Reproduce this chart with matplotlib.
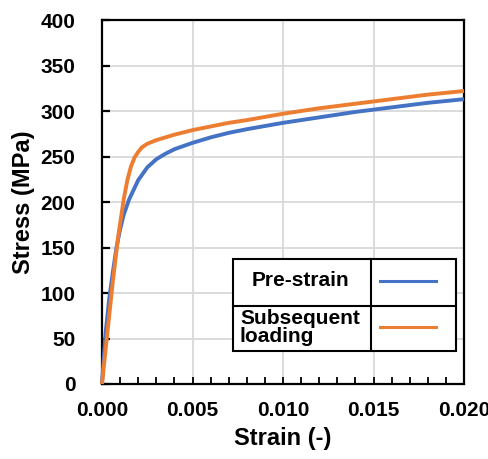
import matplotlib
matplotlib.use("Agg")
import matplotlib.pyplot as plt
from matplotlib.patches import Rectangle
from matplotlib.lines import Line2D
import numpy as np

plt.rcParams['font.family'] = ['Liberation Sans', 'DejaVu Sans']
plt.rcParams['font.weight'] = 'bold'

# values
pre_strain_x = [0, 0.0001, 0.0002, 0.0004, 0.0006, 0.0008, 0.001, 0.0012, 0.0015,
                0.002, 0.0025, 0.003, 0.0035, 0.004, 0.005, 0.006, 0.007, 0.008,
                0.010, 0.012, 0.014, 0.016, 0.018, 0.020]
pre_strain_y = [0, 30, 56, 94, 123, 150, 170, 186, 203,
                224, 238, 247, 253, 258, 265, 271, 276, 280,
                287, 293, 299, 304, 309, 313]

subseq_x = [0, 0.0003, 0.0006, 0.0009, 0.0012, 0.0014, 0.0016, 0.0018, 0.002,
            0.0022, 0.0025, 0.003, 0.004, 0.005, 0.006, 0.007, 0.008,
            0.010, 0.012, 0.014, 0.016, 0.018, 0.020]
subseq_y = [0, 57, 113, 163, 203, 224, 239, 249, 255,
            260, 264, 268, 274, 279, 283, 287, 290,
            297, 303, 308, 313, 318, 322]

blue = '#4472C4'
orange = '#ED7D31'

fig = plt.figure(figsize=(4.89, 4.59), dpi=100)
ax = fig.add_axes([0.2086, 0.1634, 0.7403, 0.793])

ax.plot(pre_strain_x, pre_strain_y, color=blue, lw=2.8, solid_capstyle='butt',
        clip_on=False, zorder=3)
ax.plot(subseq_x, subseq_y, color=orange, lw=2.8, solid_capstyle='butt',
        clip_on=False, zorder=4)

ax.set_xlim(0, 0.02)
ax.set_ylim(0, 400)
ax.set_xticks(np.arange(0, 0.0201, 0.005))
ax.set_xticks(np.arange(0, 0.0201, 0.001), minor=True)
ax.set_yticks(np.arange(0, 401, 50))
ax.set_xticklabels(['0.000', '0.005', '0.010', '0.015', '0.020'])

ax.grid(True, which='major', color='#d9d9d9', lw=1.3, zorder=0)
ax.set_axisbelow(True)

for s in ax.spines.values():
    s.set_linewidth(1.6)
    s.set_color('black')

ax.tick_params(axis='x', which='both', direction='in', length=5, width=1.3,
               labelsize=15, pad=12)
ax.tick_params(axis='y', which='major', direction='in', length=6, width=1.6,
               labelsize=15, pad=19)

ax.set_xlabel('Strain (-)', fontsize=17, fontweight='bold', labelpad=5)
ax.set_ylabel('Stress (MPa)', fontsize=17, fontweight='bold', labelpad=4)

# table-style legend
tr = ax.transAxes
x0, x1, xm = 0.361, 0.978, 0.743
y0, y1, ym = 0.0915, 0.3426, 0.215
ax.add_patch(Rectangle((x0, y0), x1 - x0, y1 - y0, transform=tr, facecolor='white',
                       edgecolor='black', lw=1.5, zorder=5))
ax.add_line(Line2D([xm, xm], [y0, y1], transform=tr, color='black', lw=1.5, zorder=6))
ax.add_line(Line2D([x0, x1], [ym, ym], transform=tr, color='black', lw=1.5, zorder=6))
ax.add_line(Line2D([0.768, 0.923], [0.283, 0.283], transform=tr, color=blue, lw=2.2, zorder=6))
ax.add_line(Line2D([0.768, 0.923], [0.1566, 0.1566], transform=tr, color=orange, lw=2.2, zorder=6))
ax.text(0.549, 0.283, 'Pre-strain', transform=tr, ha='center', va='center',
        fontsize=15, fontweight='bold', zorder=7)
ax.text(0.381, 0.166, 'Subsequent', transform=tr, ha='left', va='baseline',
        fontsize=15, fontweight='bold', zorder=7)
ax.text(0.381, 0.115, 'loading', transform=tr, ha='left', va='baseline',
        fontsize=15, fontweight='bold', zorder=7)

fig.savefig('out.png', dpi=100)
